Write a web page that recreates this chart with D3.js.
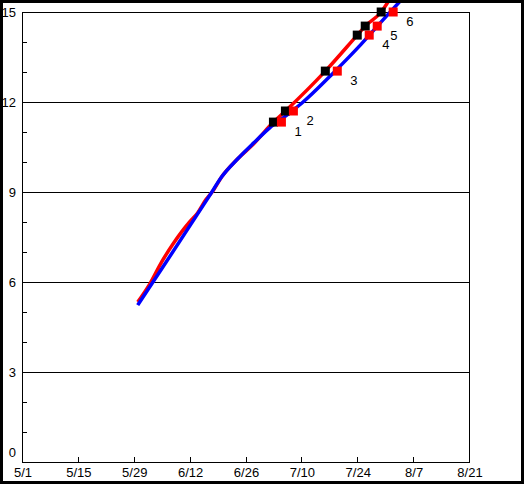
<!DOCTYPE html>
<html>
<head>
<meta charset="utf-8">
<script src="https://cdn.jsdelivr.net/npm/d3@7"></script>
<style>
  body { margin: 0; background: #fff; }
  text { font-family: "Liberation Sans", Arial, sans-serif; font-size: 13px; fill: #000; }
</style>
</head>
<body>
<svg id="chart" width="524" height="484"></svg>
<script>
  // x tick labels, every 14 days
  var xTicks = ["5/1", "5/15", "5/29", "6/12", "6/26", "7/10", "7/24", "8/7", "8/21"];
  var yMajor = [0, 3, 6, 9, 12, 15];

  // red line
  var redDates = ["5/30", "6/2", "6/5", "6/8", "6/10", "6/12", "6/14", "6/16", "6/18", "6/20", "6/24", "6/28", "7/3", "7/6", "7/16", "7/24", "7/26", "7/30", "8/1"];
  var redValues = [5.33, 5.93, 6.67, 7.3, 7.67, 8.0, 8.3, 8.73, 9.07, 9.5, 10.1, 10.6, 11.33, 11.7, 13.03, 14.23, 14.53, 15.0, 15.4];

  // blue line
  var blueDates = ["5/30", "6/6", "6/17", "6/20", "6/24", "6/28", "7/2", "7/6", "7/10", "7/18", "7/25", "7/30", "8/4"];
  var blueValues = [5.23, 6.64, 8.88, 9.5, 10.1, 10.63, 11.13, 11.53, 11.95, 12.97, 13.93, 14.67, 15.4];

  // numbered markers
  var blackDates = ["7/3", "7/6", "7/16", "7/24", "7/26", "7/30"];
  var redMarkDates = ["7/5", "7/8", "7/19", "7/27", "7/29", "8/2"];
  var markValues = [11.33, 11.7, 13.03, 14.23, 14.53, 15.0];
  var markLabels = ["1", "2", "3", "4", "5", "6"];

  function parseMD(s) {
    var p = s.split("/");
    return new Date(Date.UTC(2023, +p[0] - 1, +p[1]));
  }

  var svg = d3.select("#chart");
  var pLeft = 22, pRight = 469, pTop = 12, pBottom = 462;

  var x = d3.scaleUtc()
    .domain([parseMD("5/1"), parseMD("8/21")])
    .range([pLeft, pRight]);
  var y = d3.scaleLinear().domain([0, 15]).range([pBottom, pTop]);

  // grid lines
  svg.selectAll(".grid")
    .data(yMajor.filter(d => d > 0))
    .enter().append("line")
    .attr("x1", pLeft).attr("x2", pRight)
    .attr("y1", d => y(d)).attr("y2", d => y(d))
    .attr("stroke", "#000").attr("stroke-width", 1)
    .attr("shape-rendering", "crispEdges");

  // y axis with minor ticks
  var yAxis = d3.axisRight(y).tickValues(d3.range(0, 16)).tickSize(5).tickFormat("");
  var gy = svg.append("g").attr("transform", "translate(" + pLeft + ",0)").call(yAxis);
  gy.select(".domain").remove();
  gy.selectAll("line").attr("shape-rendering", "crispEdges");

  svg.selectAll(".ylab")
    .data(yMajor)
    .enter().append("text")
    .attr("x", 16)
    .attr("y", d => d === 0 ? y(d) - 10 : y(d))
    .attr("dy", "0.35em")
    .attr("text-anchor", "end")
    .text(d => d);

  // x axis
  var xAxis = d3.axisTop(x).tickValues(xTicks.map(parseMD)).tickSize(5).tickFormat("");
  var gx = svg.append("g").attr("transform", "translate(0," + pBottom + ")").call(xAxis);
  gx.select(".domain").remove();
  gx.selectAll("line").attr("shape-rendering", "crispEdges");

  svg.selectAll(".xlab")
    .data(xTicks)
    .enter().append("text")
    .attr("x", d => x(parseMD(d)) + 1)
    .attr("y", 477)
    .attr("text-anchor", "middle")
    .text(d => d);

  // plot frame
  svg.append("rect")
    .attr("x", pLeft).attr("y", pTop)
    .attr("width", pRight - pLeft).attr("height", pBottom - pTop)
    .attr("fill", "none").attr("stroke", "#000")
    .attr("shape-rendering", "crispEdges");

  var line = d3.line()
    .x(d => x(parseMD(d[0])))
    .y(d => y(d[1]))
    .curve(d3.curveMonotoneX);

  svg.append("path")
    .datum(d3.zip(redDates, redValues))
    .attr("d", line)
    .attr("fill", "none").attr("stroke", "#ff0000").attr("stroke-width", 3.5);

  svg.append("path")
    .datum(d3.zip(blueDates, blueValues))
    .attr("d", line)
    .attr("fill", "none").attr("stroke", "#0000ff").attr("stroke-width", 3.5);

  var sz = 9;
  svg.selectAll(".bm")
    .data(d3.zip(blackDates, markValues))
    .enter().append("rect")
    .attr("x", d => x(parseMD(d[0])) - sz / 2)
    .attr("y", d => y(d[1]) - sz / 2)
    .attr("width", sz).attr("height", sz)
    .attr("fill", "#000");

  svg.selectAll(".rm")
    .data(d3.zip(redMarkDates, markValues))
    .enter().append("rect")
    .attr("x", d => x(parseMD(d[0])) - sz / 2)
    .attr("y", d => y(d[1]) - sz / 2)
    .attr("width", sz).attr("height", sz)
    .attr("fill", "#ff0000");

  svg.selectAll(".ml")
    .data(d3.zip(redMarkDates, markValues, markLabels))
    .enter().append("text")
    .attr("x", d => x(parseMD(d[0])) + 13)
    .attr("y", d => y(d[1]) + 14)
    .text(d => d[2]);

  // outer border
  svg.append("rect")
    .attr("x", 1.5).attr("y", 1.5)
    .attr("width", 521).attr("height", 481)
    .attr("fill", "none").attr("stroke", "#000").attr("stroke-width", 3);
</script>
</body>
</html>
